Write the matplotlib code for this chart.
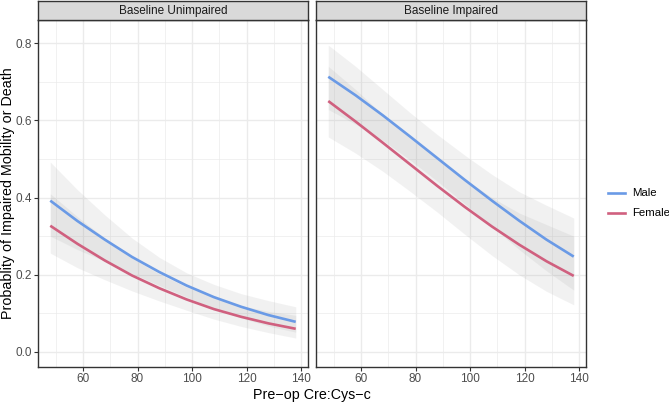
import matplotlib
matplotlib.use("Agg")
import matplotlib.pyplot as plt
from matplotlib.lines import Line2D

# valores
x_vals = [48, 58, 68, 78, 88, 98, 108, 118, 128, 138]

paneles = ["Baseline Unimpaired", "Baseline Impaired"]

# Baseline Unimpaired
unimp_male = [0.392, 0.339, 0.291, 0.246, 0.207, 0.172, 0.142, 0.117, 0.0955, 0.078]
unimp_male_lo = [0.300, 0.265, 0.235, 0.203, 0.172, 0.142, 0.113, 0.088, 0.067, 0.051]
unimp_male_hi = [0.492, 0.420, 0.355, 0.295, 0.245, 0.205, 0.175, 0.151, 0.133, 0.117]
unimp_female = [0.327, 0.280, 0.237, 0.198, 0.165, 0.136, 0.111, 0.091, 0.074, 0.060]
unimp_female_lo = [0.256, 0.218, 0.187, 0.158, 0.132, 0.108, 0.085, 0.066, 0.050, 0.036]
unimp_female_hi = [0.410, 0.350, 0.295, 0.243, 0.202, 0.168, 0.142, 0.120, 0.105, 0.095]

# Baseline Impaired
imp_male = [0.713, 0.665, 0.613, 0.558, 0.502, 0.446, 0.392, 0.340, 0.291, 0.247]
imp_male_lo = [0.628, 0.590, 0.548, 0.497, 0.442, 0.384, 0.325, 0.265, 0.210, 0.160]
imp_male_hi = [0.795, 0.740, 0.680, 0.620, 0.563, 0.510, 0.460, 0.415, 0.380, 0.347]
imp_female = [0.650, 0.597, 0.542, 0.486, 0.430, 0.376, 0.325, 0.278, 0.235, 0.197]
imp_female_lo = [0.557, 0.515, 0.468, 0.416, 0.362, 0.305, 0.250, 0.200, 0.157, 0.122]
imp_female_hi = [0.740, 0.680, 0.615, 0.555, 0.500, 0.448, 0.400, 0.360, 0.330, 0.300]

datos = [
    (unimp_male, unimp_male_lo, unimp_male_hi, unimp_female, unimp_female_lo, unimp_female_hi),
    (imp_male, imp_male_lo, imp_male_hi, imp_female, imp_female_lo, imp_female_hi),
]

color_male = "#6A9AE6"
color_female = "#D0607F"
gris_borde = "#333333"
gris_texto = "#4D4D4D"

W, H = 669, 403
fig = plt.figure(figsize=(W / 100, H / 100), dpi=100)
plt.rcParams["font.family"] = "Liberation Sans"

def caja(x0, y0, x1, y1):
    # convierte pixeles (arriba-izquierda) a fraccion de figura
    return [x0 / W, 1 - y1 / H, (x1 - x0) / W, (y1 - y0) / H]

paneles_x = [(38, 308), (316, 586)]
y_top, y_bot = 20, 367

for i, (titulo, (x0, x1)) in enumerate(zip(paneles, paneles_x)):
    ax = fig.add_axes(caja(x0, y_top, x1, y_bot))
    m, mlo, mhi, f, flo, fhi = datos[i]
    ax.fill_between(x_vals, mlo, mhi, color="#999999", alpha=0.13, lw=0)
    ax.fill_between(x_vals, flo, fhi, color="#999999", alpha=0.13, lw=0)
    ax.plot(x_vals, m, color=color_male, lw=1.9, solid_capstyle="butt")
    ax.plot(x_vals, f, color=color_female, lw=1.9, solid_capstyle="butt")
    ax.set_xlim(43.5, 142.5)
    ax.set_ylim(-0.039, 0.86)
    ax.set_xticks([60, 80, 100, 120, 140])
    ax.set_xticks([50, 70, 90, 110, 130], minor=True)
    ax.set_yticks([0.0, 0.2, 0.4, 0.6, 0.8])
    ax.set_yticks([0.1, 0.3, 0.5, 0.7], minor=True)
    ax.grid(which="major", color="#EBEBEB", lw=1.0)
    ax.grid(which="minor", color="#EBEBEB", lw=0.5)
    ax.set_axisbelow(True)
    for s in ax.spines.values():
        s.set_color(gris_borde)
        s.set_linewidth(1.0)
    ax.tick_params(which="minor", length=0)
    ax.tick_params(which="major", length=3, width=0.8, color=gris_borde,
                   labelsize=8.5, labelcolor=gris_texto, pad=1.5)
    if i == 0:
        ax.set_yticklabels(["0.0", "0.2", "0.4", "0.6", "0.8"])
    else:
        ax.tick_params(axis="y", left=False, labelleft=False)

    # strip del facet
    st = fig.add_axes(caja(x0, 1, x1, y_top))
    st.set_facecolor("#D9D9D9")
    st.set_xticks([])
    st.set_yticks([])
    for s in st.spines.values():
        s.set_color(gris_borde)
        s.set_linewidth(1.0)
    st.text(0.5, 0.48, titulo, ha="center", va="center", fontsize=8.5, color="#1A1A1A")

fig.text(8 / W, 1 - 193.5 / H, "Probablity of Impaired Mobility or Death",
         rotation=90, ha="center", va="center", fontsize=10.3)
fig.text(312 / W, 1 - 394.5 / H, "Pre\u2212op Cre:Cys\u2212c", ha="center", va="center", fontsize=10.3)

# leyenda dibujada a mano
for etiqueta, color, yy in [("Male", color_male, 193), ("Female", color_female, 213)]:
    fig.add_artist(Line2D([608 / W, 625 / W], [1 - yy / H, 1 - yy / H], color=color, lw=1.9,
                          transform=fig.transFigure))
    fig.text(632 / W, 1 - yy / H, etiqueta, ha="left", va="center", fontsize=8.2)

fig.savefig("out.png", dpi=100)
